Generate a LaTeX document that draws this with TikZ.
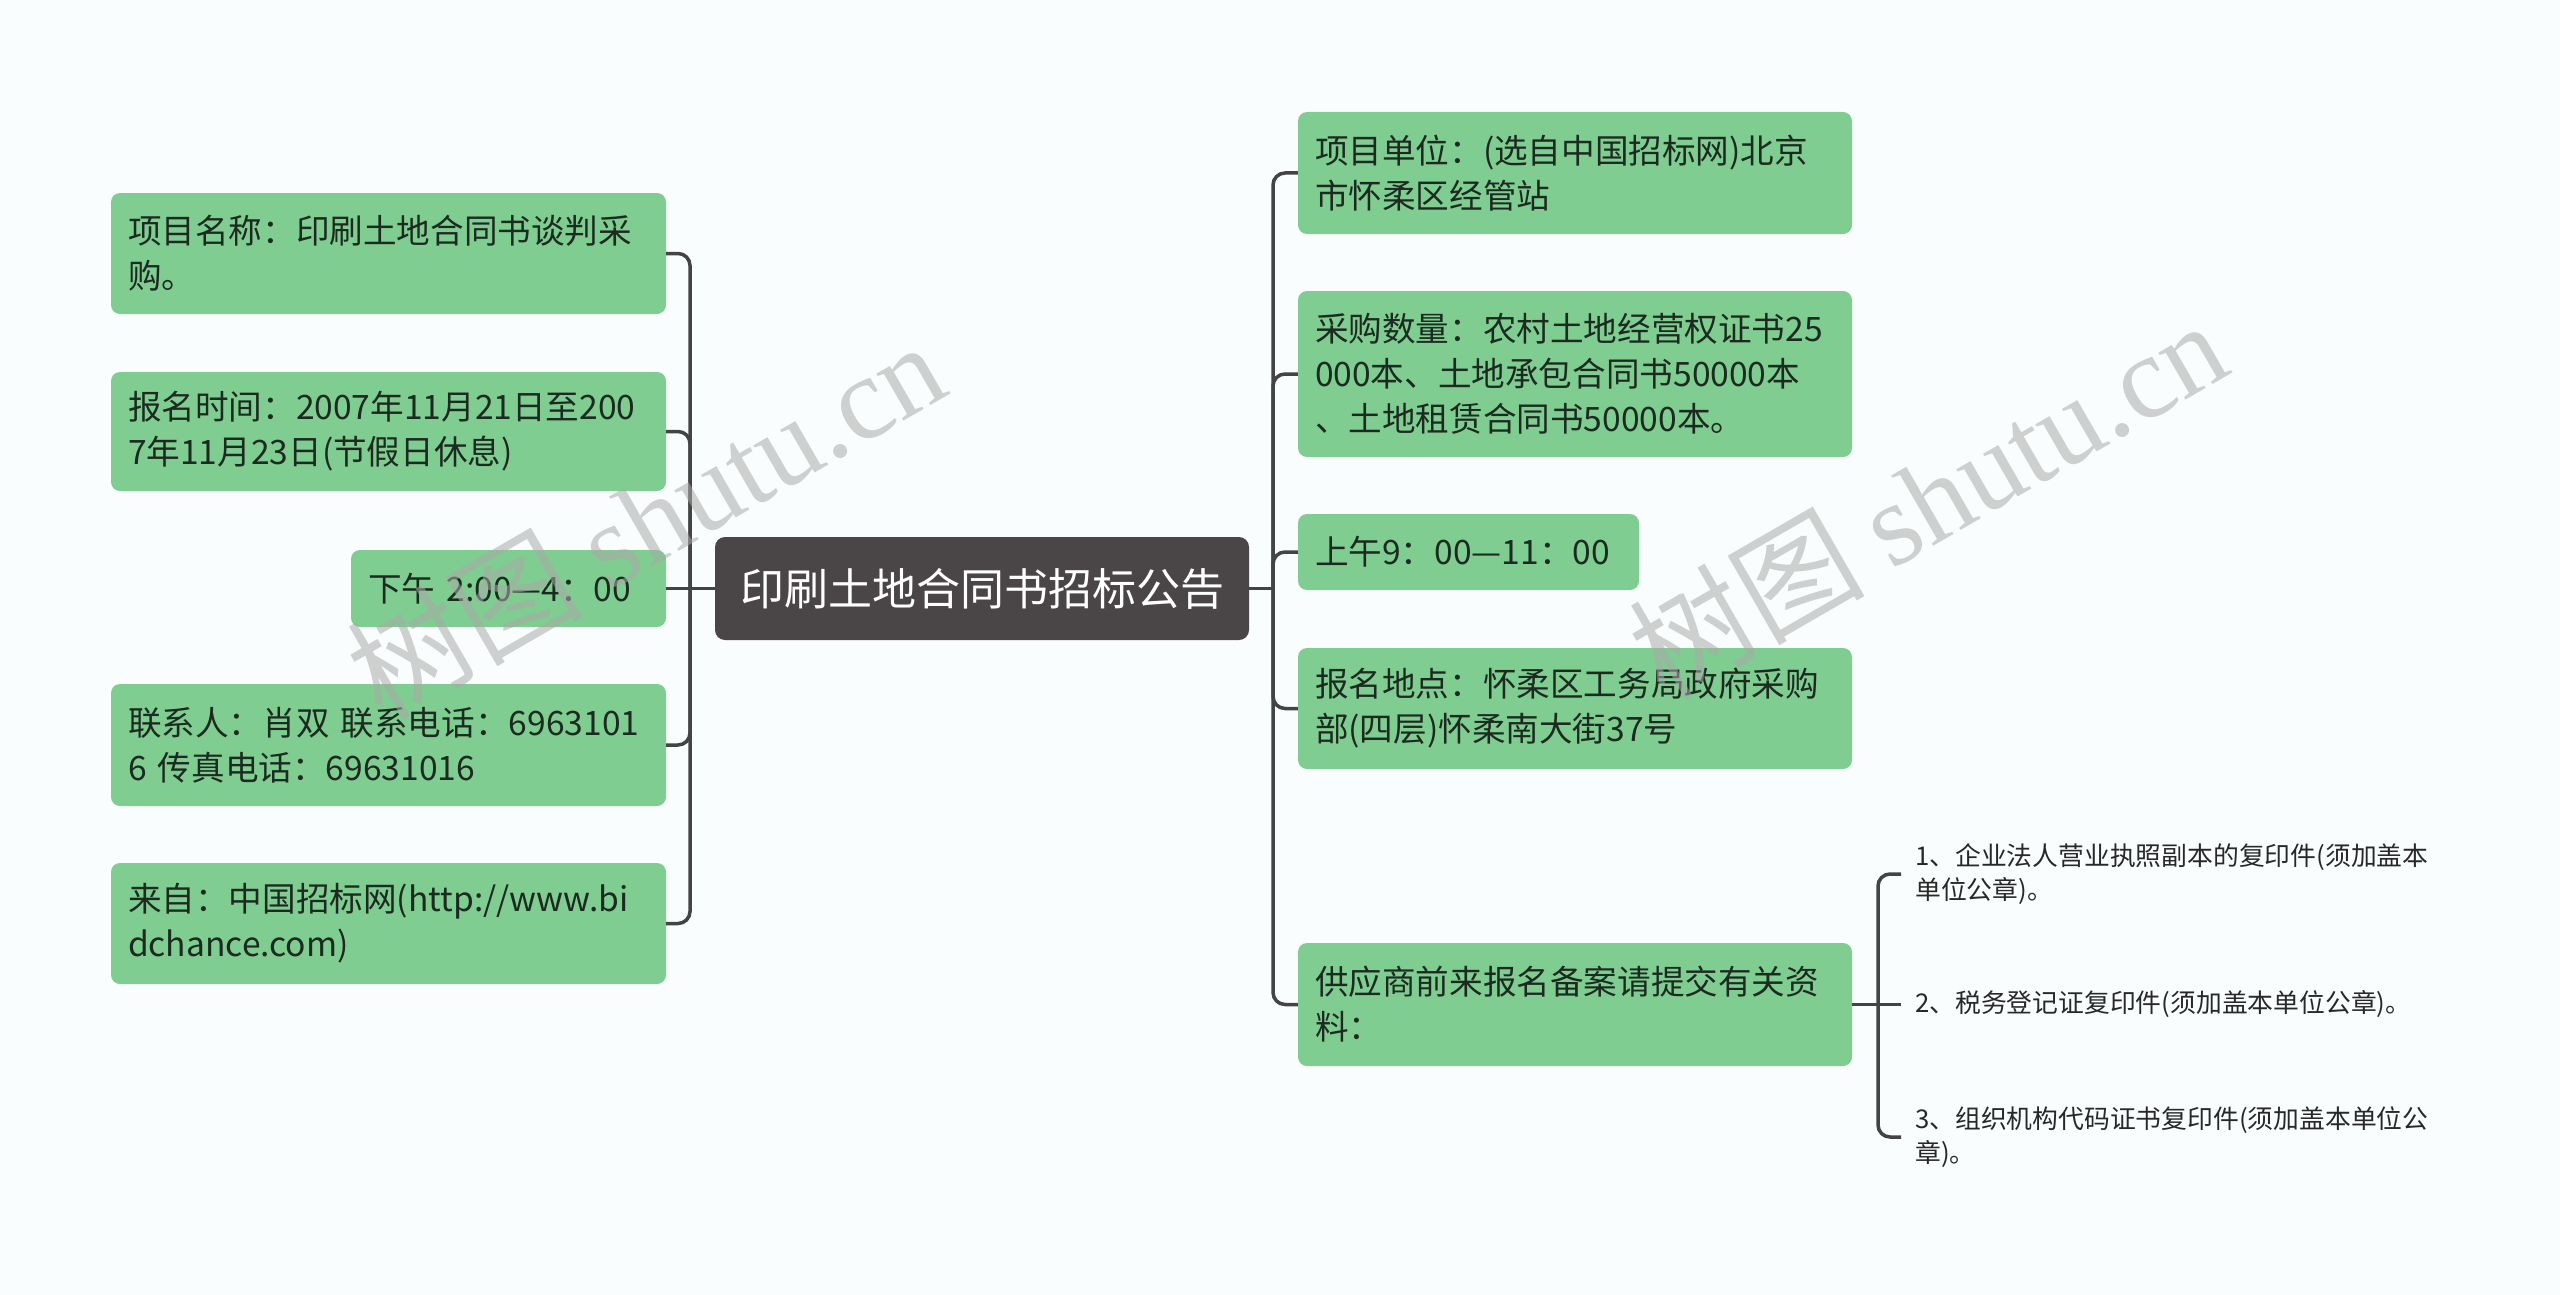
\documentclass[tikz,border=0pt]{standalone}
\usepackage{fontspec}
\setmainfont{Noto Sans CJK SC}
\newfontfamily\wmserif{Liberation Serif}
\definecolor{bgc}{RGB}{250,253,254}
\definecolor{nodegreen}{RGB}{127,205,145}
\definecolor{linkc}{RGB}{68,68,68}
\definecolor{centralc}{RGB}{74,69,70}
\definecolor{txt}{RGB}{28,42,32}
\definecolor{leaftxt}{RGB}{40,40,40}
\definecolor{wmc}{RGB}{170,170,170}
\begin{document}
\begin{tikzpicture}[x=1pt,y=-1pt,
  box/.style={fill=nodegreen, rounded corners=9pt, inner xsep=17pt, inner ysep=0pt,
    text=txt, font=\fontsize{33.6}{45}\selectfont, align=left, anchor=center},
  link/.style={draw=linkc, line width=3.5pt, rounded corners=12pt},
  leaf/.style={text=leaftxt, font=\fontsize{25.8}{34}\selectfont, align=left,
    anchor=west, inner xsep=14pt, inner ysep=0pt},
  wmark/.style={rotate=30, text=wmc, opacity=0.55, font=\fontsize{118}{118}\selectfont}
]
\fill[bgc] (0,0) rectangle (2560,1295);
\useasboundingbox (0,0) rectangle (2560,1295);

% central
\node[fill=centralc, rounded corners=10pt, text=white, minimum width=534pt,
  minimum height=103pt, inner sep=0pt, font=\fontsize{44}{50}\selectfont] (c) at (982,588.5) {印刷土地合同书招标公告};

% left
\node[box, text width=521pt, minimum height=121pt] (l1) at (388.5,253.5) {项目名称：印刷土地合同书谈判采\\购。};
\node[box, text width=521pt, minimum height=119pt] (l2) at (388.5,431.5) {报名时间：2007年11月21日至200\\7年11月23日(节假日休息)};
\node[box, text width=281pt, minimum height=77pt] (l3) at (508.5,588.5) {下午 2:00—4：00};
\node[box, text width=521pt, minimum height=122pt] (l4) at (388.5,745) {联系人：肖双 联系电话：6963101\\6 传真电话：69631016};
\node[box, text width=521pt, minimum height=121pt] (l5) at (388.5,923.5) {来自：中国招标网(http://www.bi\\dchance.com)};

% right
\node[box, text width=520pt, minimum height=122pt] (r1) at (1575,173) {项目单位：(选自中国招标网)北京\\市怀柔区经管站};
\node[box, text width=520pt, minimum height=166pt] (r2) at (1575,374) {采购数量：农村土地经营权证书25\\000本、土地承包合同书50000本\\、土地租赁合同书50000本。};
\node[box, text width=307pt, minimum height=76pt] (r3) at (1468.5,552) {上午9：00—11：00};
\node[box, text width=520pt, minimum height=121pt] (r4) at (1575,708.5) {报名地点：怀柔区工务局政府采购\\部(四层)怀柔南大街37号};
\node[box, text width=520pt, minimum height=123pt] (r5) at (1575,1004.5) {供应商前来报名备案请提交有关资\\料：};

% leaves
\node[leaf] (k1) at (1901,874) {1、企业法人营业执照副本的复印件(须加盖本\\单位公章)。};
\node[leaf] (k2) at (1901,1004.5) {2、税务登记证复印件(须加盖本单位公章)。};
\node[leaf] (k3) at (1901,1137) {3、组织机构代码证书复印件(须加盖本单位公\\章)。};

% connectors
\coordinate (rs) at (1273,588.5);
\coordinate (ls) at (690,588.5);
\coordinate (bs) at (1878,1004.5);

\draw[link] (c.east) -- (rs);
\foreach \t in {r1,r2,r3,r4,r5}
  \draw[link] (rs) -- (rs |- \t.west) -- (\t.west);

\draw[link] (c.west) -- (ls) -- (l3.east);
\foreach \t in {l1,l2,l4,l5}
  \draw[link] (ls) -- (ls |- \t.east) -- (\t.east);

\draw[link] (r5.east) -- (bs) -- (k2.west);
\foreach \t in {k1,k3}
  \draw[link] (bs) -- (bs |- \t.west) -- (\t.west);

% watermarks
\node[wmark] (w1) at (645,519) {树图 {\wmserif shutu.cn}};
\node[wmark] (w2) at (1927,498) {树图 {\wmserif shutu.cn}};
\end{tikzpicture}
\end{document}
